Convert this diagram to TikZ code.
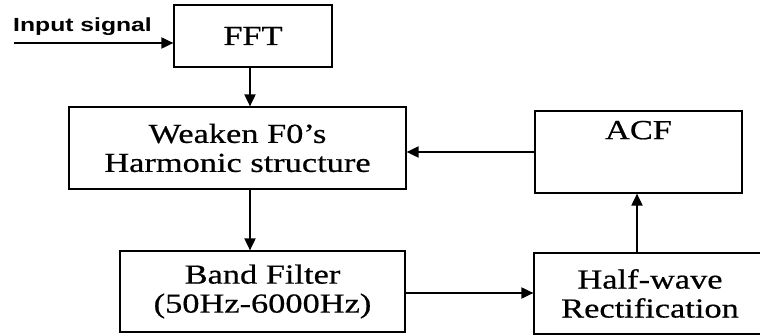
\documentclass[tikz,border=0pt]{standalone}
\usepackage{fontspec}
\setmainfont{Liberation Serif}[FakeStretch=1.25,FakeBold=0.6]
\newfontfamily\inputfont{Liberation Sans}[FakeStretch=1.3]
\usetikzlibrary{arrows.meta}

\begin{document}
\begin{tikzpicture}[
x=1pt,y=-1pt,
every node/.style={align=center,font=\fontsize{27.5}{29}\selectfont},
block/.style={draw,line width=1.2pt,inner sep=0pt},
flow/.style={line width=1.9pt,-{Triangle[length=12pt,width=11pt]}}
]
\useasboundingbox (0,0) rectangle (760,336);
\node[block,minimum width=158pt,minimum height=62pt] (fft) at (253,36) {FFT};
\node[block,minimum width=337pt,minimum height=82pt] (weaken) at (237.5,148) {Weaken F0's\\Harmonic structure};
\node[block,minimum width=285pt,minimum height=81pt] (band) at (262.5,291.5) {Band Filter\\(50Hz-6000Hz)};
\node[block,minimum width=207pt,minimum height=82pt,text depth=44pt] (acf) at (638.5,152) {ACF};
\node[block,minimum width=232pt,minimum height=81pt] (half) at (650,293.5) {Half-wave\\Rectification};
\coordinate (in) at (14,43);
\node[font=\inputfont\bfseries\fontsize{19}{21}\selectfont,anchor=south west,inner sep=0pt] (inlabel) at (13,36) {Input signal};
% connections
\draw[flow] (in) -- (in -| fft.west);
\draw[flow] (fft.south -| 250,0) -- (weaken.north -| 250,0);
\draw[flow] (weaken.south -| 250,0) -- (band.north -| 250,0);
\draw[flow] (acf.west) -- (weaken.east |- acf.west);
\draw[flow] (band.east |- 0,293) -- (half.west |- 0,293);
\draw[flow] (half.north -| 637,0) -- (acf.south -| 637,0);
\end{tikzpicture}
\end{document}
